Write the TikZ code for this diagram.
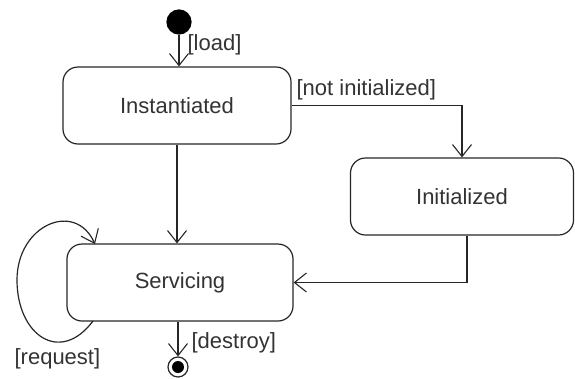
\documentclass[tikz,border=0pt]{standalone}
\usepackage{fontspec}
\setmainfont{Liberation Sans}
\usetikzlibrary{arrows.meta}
\begin{document}
\begin{tikzpicture}[x=1pt,y=-1pt,
  font=\fontsize{22}{26}\selectfont,
  line width=1.2pt,
  statebox/.style={draw=black!85, rounded corners=15pt, minimum width=#1, minimum height=77pt, inner sep=0pt, text=black!80},
  flow/.style={draw=black!85, -{Straight Barb[length=12pt,width=19pt,line width=1.1pt]}},
  guard/.style={inner sep=0pt, anchor=base west, text=black!80}]
\useasboundingbox (0,0) rectangle (575,378);
\node[circle, fill=black, draw=black, minimum size=24pt, inner sep=0pt] (start) at (179,22) {};
\node[statebox=228pt] (inst) at (177,105.5) {Instantiated};
\node[statebox=223pt] (init) at (462,196.5) {Initialized};
\node[statebox=226pt] (serv) at (180,282.5) {Servicing};
\node[circle, draw=black!85, minimum size=20pt, inner sep=0pt] (final) at (178,367) {};
\node[circle, fill=black, minimum size=12pt, inner sep=0pt] (finalin) at (final.center) {};
\coordinate (loopa) at (93,321);
\coordinate (loopb) at (95,244);

\draw[flow] (start.south) -- (start.south |- inst.north);
\draw[flow] (inst.south) -- (inst.south |- serv.north);
\draw[flow] (inst.east) -| (init.north);
\draw[flow] ([xshift=5pt]init.south) |- (serv.east);
\draw[flow] (final.north |- serv.south) -- (final.north);
\draw[flow] (loopa) .. controls (60,365) and (17,335) .. (17,280) .. controls (17,225) and (75,200) .. (loopb);

\node[guard] (gload) at (187,50) {[load]};
\node[guard] (gnot) at (296,95) {[not initialized]};
\node[guard] (gdes) at (191,348) {[destroy]};
\node[guard] (greq) at (14,364) {[request]};
\end{tikzpicture}
\end{document}
